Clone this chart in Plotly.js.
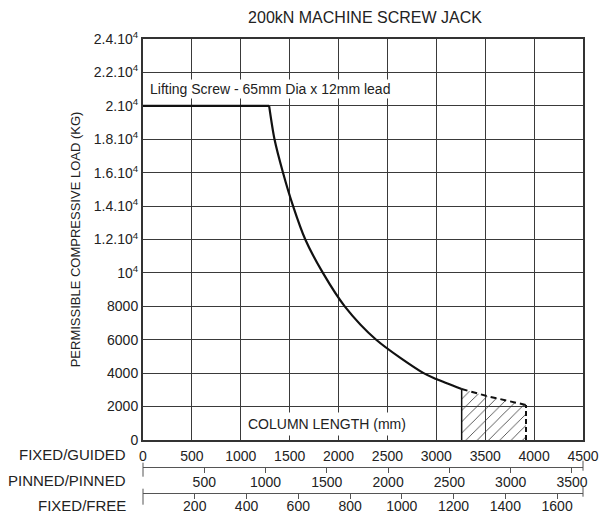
<!DOCTYPE html>
<html>
<head>
<meta charset="utf-8">
<script src="https://cdn.plot.ly/plotly-3.0.1.min.js"></script>
<style>html,body{margin:0;padding:0;background:#fff;}#chart{width:609px;height:513px;}</style>
</head>
<body>
<div id="chart"></div>
<script>
// Main permissible load curve (FIXED/GUIDED column length, mm -> load, kg)
var flatLength = [0, 1290];
var flatLoad   = [20000, 20000];
var curveLength = [1290, 1345, 1432, 1535, 1660, 1840, 2063, 2385, 2870, 3000, 3259];
var curveLoad   = [20000, 18000, 16000, 14000, 12000, 10000, 8000, 6000, 4000, 3650, 3050];
// Dashed extension over the hatched zone
var dashLength = [3259, 3515, 3917];
var dashLoad   = [3050, 2633, 2095];
// Y tick labels
var yTickVals = [0, 2000, 4000, 6000, 8000, 10000, 12000, 14000, 16000, 18000, 20000, 22000, 24000];
var yTickText = ['0', '2000', '4000', '6000', '8000', '10<sup>4</sup>', '1.2.10<sup>4</sup>', '1.4.10<sup>4</sup>',
                 '1.6.10<sup>4</sup>', '1.8.10<sup>4</sup>', '2.10<sup>4</sup>', '2.2.10<sup>4</sup>', '2.4.10<sup>4</sup>'];
// Secondary scales
var guidedTicks = [0, 500, 1000, 1500, 2000, 2500, 3000, 3500, 4000, 4500];
var pinnedTicks = [500, 1000, 1500, 2000, 2500, 3000, 3500];
var freeTicks = [200, 400, 600, 800, 1000, 1200, 1400, 1600];
var rowLabels = ['FIXED/GUIDED', 'PINNED/PINNED', 'FIXED/FREE'];

var FONT = 'Liberation Sans, Arial, sans-serif';
var ink = '#222';

var traces = [
  {x: dashLength, y: dashLoad, mode: 'lines', fill: 'tozeroy', fillcolor: 'rgba(0,0,0,0)',
   fillpattern: {shape: '/', fgcolor: '#333', bgcolor: 'rgba(255,255,255,0)', size: 8, solidity: 0.1},
   line: {color: '#111', width: 2, dash: '6px,4px'}, hoverinfo: 'skip', showlegend: false},
  {x: [dashLength[0], dashLength[0]], y: [0, dashLoad[0]], mode: 'lines',
   line: {color: '#111', width: 1.5}, hoverinfo: 'skip', showlegend: false},
  {x: [dashLength[2], dashLength[2]], y: [0, dashLoad[2]], mode: 'lines',
   line: {color: '#111', width: 2, dash: '5px,3px'}, hoverinfo: 'skip', showlegend: false},
  {x: flatLength, y: flatLoad, mode: 'lines', line: {color: '#111', width: 2.2},
   hoverinfo: 'skip', showlegend: false},
  {x: curveLength, y: curveLoad, mode: 'lines', line: {color: '#111', width: 2.2, shape: 'spline', smoothing: 0.8},
   hoverinfo: 'skip', showlegend: false},
  {x: [null], y: [null], xaxis: 'x2', mode: 'lines', hoverinfo: 'skip', showlegend: false},
  {x: [null], y: [null], xaxis: 'x3', mode: 'lines', hoverinfo: 'skip', showlegend: false}
];

var pinnedPos = (513 - 466.7) / 474;
var freePos = (513 - 492.7) / 474;
var labelX = (128 - 143) / 440;

var layout = {
  width: 609, height: 513,
  margin: {l: 143, r: 26, t: 39, b: 0},
  paper_bgcolor: '#fff', plot_bgcolor: '#fff',
  font: {family: FONT, size: 14, color: ink},
  title: {text: '200kN MACHINE SCREW JACK', x: 365 / 609, xanchor: 'center', y: 1 - 17 / 513, yanchor: 'middle',
          font: {family: FONT, size: 16, color: ink}},
  xaxis: {range: [0, 4500], tickvals: guidedTicks,
          showgrid: true, gridcolor: '#3a3a3a', gridwidth: 1, zeroline: false,
          showline: true, linecolor: '#333', linewidth: 2, mirror: true, ticks: '',
          ticklabelstandoff: 2, domain: [0, 1], tickfont: {size: 14, color: ink}},
  yaxis: {range: [0, 24000], domain: [73 / 474, 1], tickvals: yTickVals, ticktext: yTickText,
          showgrid: true, gridcolor: '#3a3a3a', gridwidth: 1, zeroline: false,
          showline: true, linecolor: '#333', linewidth: 2, mirror: true, ticks: '',
          tickfont: {size: 14, color: ink},
          title: {text: 'PERMISSIBLE COMPRESSIVE LOAD (KG)', font: {size: 13, color: ink}, standoff: 10}},
  xaxis2: {overlaying: 'x', anchor: 'free', position: pinnedPos, range: [0, 3590], tickvals: pinnedTicks,
           showgrid: false, zeroline: false, showline: true, linecolor: '#555', linewidth: 1,
           ticks: 'outside', ticklen: 5, tickcolor: '#555', ticklabelstandoff: -3, tickfont: {size: 14, color: ink}},
  xaxis3: {overlaying: 'x', anchor: 'free', position: freePos, range: [0, 1700], tickvals: freeTicks,
           showgrid: false, zeroline: false, showline: true, linecolor: '#555', linewidth: 1,
           ticks: 'outside', ticklen: 5, tickcolor: '#555', ticklabelstandoff: -5, tickfont: {size: 14, color: ink}},
  shapes: [
    {type: 'line', xref: 'paper', yref: 'paper', x0: 0, x1: 0, y0: pinnedPos + 4 / 474, y1: pinnedPos - 10 / 474, line: {color: '#555', width: 1}},
    {type: 'line', xref: 'paper', yref: 'paper', x0: 1, x1: 1, y0: pinnedPos + 6 / 474, y1: pinnedPos - 4 / 474, line: {color: '#555', width: 1}},
    {type: 'line', xref: 'paper', yref: 'paper', x0: 0, x1: 0, y0: freePos + 4 / 474, y1: freePos - 12 / 474, line: {color: '#555', width: 1}},
    {type: 'line', xref: 'paper', yref: 'paper', x0: 1, x1: 1, y0: freePos + 6 / 474, y1: freePos - 4 / 474, line: {color: '#555', width: 1}}
  ],
  annotations: [
    {text: 'Lifting Screw - 65mm Dia x 12mm lead', xref: 'x', yref: 'y', x: 50, y: 21000, xanchor: 'left', yanchor: 'middle',
     showarrow: false, bgcolor: '#fff', borderpad: 1, font: {size: 14, color: ink}},
    {text: 'COLUMN LENGTH (mm)', xref: 'x', yref: 'y', x: 1880, y: 950, xanchor: 'center', yanchor: 'middle',
     showarrow: false, bgcolor: '#fff', borderpad: 3, font: {size: 14, color: ink}},
    {text: rowLabels[0], xref: 'paper', yref: 'paper', x: labelX, y: (513 - 454) / 474, xanchor: 'right', yanchor: 'middle', showarrow: false, font: {size: 15, color: ink}},
    {text: rowLabels[1], xref: 'paper', yref: 'paper', x: labelX, y: (513 - 480) / 474, xanchor: 'right', yanchor: 'middle', showarrow: false, font: {size: 15, color: ink}},
    {text: rowLabels[2], xref: 'paper', yref: 'paper', x: labelX, y: (513 - 505) / 474, xanchor: 'right', yanchor: 'middle', showarrow: false, font: {size: 15, color: ink}}
  ]
};

Plotly.newPlot('chart', traces, layout, {displayModeBar: false, staticPlot: true});
</script>
</body>
</html>
